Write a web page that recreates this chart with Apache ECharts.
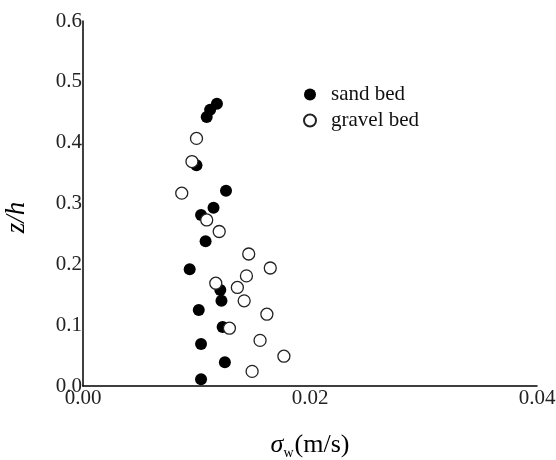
<!DOCTYPE html>
<html>
<head>
<meta charset="utf-8">
<script src="https://cdn.jsdelivr.net/npm/echarts@6/dist/echarts.min.js"></script>
<style>
  html, body { margin: 0; padding: 0; background: #fff; }
  #chart { width: 556px; height: 460px; }
</style>
</head>
<body>
<div id="chart"></div>
<script>
// Vertical velocity fluctuation profiles over two bed types
const seriesNames = ['sand bed', 'gravel bed'];

// sigma_w (m/s) and z/h for the sand bed
const sandSigma = [0.0118, 0.0112, 0.0109, 0.0100, 0.0126, 0.0115, 0.0104, 0.0108,
                   0.0094, 0.0121, 0.0122, 0.0102, 0.0123, 0.0104, 0.0125, 0.0104];
const sandZ     = [0.464, 0.454, 0.442, 0.363, 0.321, 0.293, 0.281, 0.238,
                   0.192, 0.158, 0.140, 0.125, 0.097, 0.069, 0.039, 0.011];

// sigma_w (m/s) and z/h for the gravel bed
const gravelSigma = [0.0100, 0.0096, 0.0087, 0.0109, 0.0120, 0.0146, 0.0165, 0.0144,
                     0.0117, 0.0136, 0.0142, 0.0162, 0.0129, 0.0156, 0.0177, 0.0149];
const gravelZ     = [0.407, 0.369, 0.317, 0.273, 0.254, 0.217, 0.194, 0.181,
                     0.169, 0.162, 0.140, 0.118, 0.095, 0.075, 0.049, 0.024];

const xTicks = [0.00, 0.02, 0.04];
const yTicks = [0.0, 0.1, 0.2, 0.3, 0.4, 0.5, 0.6];

const pairs = (xs, ys) => xs.map((x, i) => [x, ys[i]]);

const serif = '"Liberation Serif", "DejaVu Serif", serif';

const chart = echarts.init(document.getElementById('chart'), null, { renderer: 'canvas' });
chart.setOption({
  backgroundColor: '#fff',
  animation: false,
  textStyle: { fontFamily: serif, color: '#000' },
  grid: { left: 83, right: 19, top: 21, bottom: 74, containLabel: false, outerBoundsMode: 'none' },
  legend: {
    orient: 'vertical',
    left: 298,
    top: 79,
    itemWidth: 12,
    itemHeight: 12,
    itemGap: 5,
    textStyle: { fontFamily: serif, fontSize: 21, color: '#111', padding: [0, 0, 0, 10] },
    data: [
      { name: seriesNames[0], icon: 'circle' },
      { name: seriesNames[1], icon: 'circle' }
    ]
  },
  xAxis: {
    type: 'value',
    min: xTicks[0],
    max: xTicks[xTicks.length - 1],
    interval: xTicks[1] - xTicks[0],
    splitLine: { show: false },
    axisTick: { show: false },
    axisLine: { show: true, onZero: false, lineStyle: { color: '#000', width: 1.5 } },
    axisLabel: {
      fontFamily: serif, fontSize: 21, color: '#222', margin: 2,
      formatter: v => v.toFixed(2)
    },
    name: '{s|σ}{w|w}{p|(m/s)}',
    nameLocation: 'middle',
    nameGap: 44,
    nameTextStyle: {
      rich: {
        s: { fontFamily: serif, fontSize: 26, fontStyle: 'italic', color: '#000' },
        w: { fontFamily: serif, fontSize: 14, color: '#000', verticalAlign: 'bottom', padding: [16, 1, 0, 0] },
        p: { fontFamily: serif, fontSize: 26, color: '#000' }
      }
    }
  },
  yAxis: {
    type: 'value',
    min: yTicks[0],
    max: yTicks[yTicks.length - 1],
    interval: yTicks[1] - yTicks[0],
    splitLine: { show: false },
    axisTick: { show: false },
    axisLine: { show: true, onZero: false, lineStyle: { color: '#000', width: 1.5 } },
    axisLabel: {
      fontFamily: serif, fontSize: 21, color: '#222', margin: 1,
      formatter: v => v.toFixed(1)
    },
    name: 'z/h',
    nameLocation: 'middle',
    nameGap: 53,
    nameRotate: 90,
    nameTextStyle: { fontFamily: serif, fontSize: 27, fontStyle: 'italic', color: '#000', padding: [0, 28, 0, 0] }
  },
  series: [
    {
      name: seriesNames[0],
      type: 'scatter',
      symbol: 'circle',
      symbolSize: 12,
      itemStyle: { color: '#000', opacity: 1 },
      data: pairs(sandSigma, sandZ),
      z: 2
    },
    {
      name: seriesNames[1],
      type: 'scatter',
      symbol: 'circle',
      symbolSize: 12,
      itemStyle: { color: '#fff', borderColor: '#222', borderWidth: 1.3, opacity: 1 },
      data: pairs(gravelSigma, gravelZ),
      z: 3
    }
  ]
});
</script>
</body>
</html>
